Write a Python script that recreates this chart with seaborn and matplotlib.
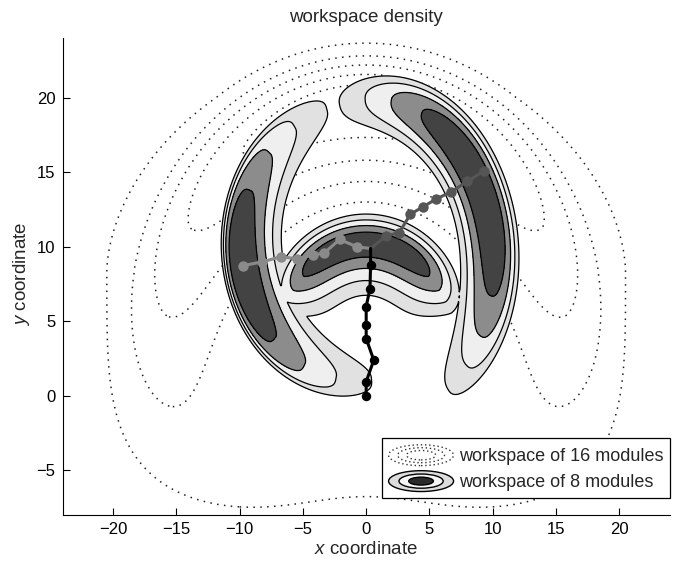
import numpy as np
import pandas as pd
import matplotlib
matplotlib.use("Agg")
import matplotlib.pyplot as plt
import seaborn as sns
from matplotlib.patches import Ellipse
from matplotlib.legend_handler import HandlerBase
from matplotlib.lines import Line2D

sns.set_theme(style="white")
plt.rcParams["font.family"] = ["Liberation Sans", "DejaVu Sans"]
plt.rcParams["mathtext.fontset"] = "custom"
plt.rcParams["mathtext.it"] = "Liberation Sans:italic"
plt.rcParams["mathtext.rm"] = "Liberation Sans"
np.seterr(over="ignore")

# ---------------- data ----------------
title = "workspace density"
x_label = r"$\it{x}$ coordinate"
y_label = r"$\it{y}$ coordinate"
legend_labels = ["workspace of 16 modules", "workspace of 8 modules"]
x_ticks = [-20, -15, -10, -5, 0, 5, 10, 15, 20]
y_ticks = [-5, 0, 5, 10, 15, 20]
x_limits = (-24, 24)
y_limits = (-8, 24)

# robot chains (joint positions)
black_x = [0.0, 0.0, 0.6, 0.0, 0.0, 0.0, 0.3, 0.35, 0.35]
black_y = [0.0, 0.95, 2.4, 3.85, 4.75, 6.0, 7.2, 8.8, 9.9]
light_x = [0.35, -0.7, -2.1, -3.3, -4.2, -5.5, -6.7, -8.2, -9.7]
light_y = [9.9, 10.0, 10.5, 9.6, 9.45, 9.2, 9.35, 9.0, 8.75]
dark_x = [0.35, 1.6, 2.6, 3.5, 4.5, 5.5, 6.7, 8.0, 9.3]
dark_y = [9.9, 10.75, 10.95, 12.2, 12.7, 13.2, 13.7, 14.4, 15.1]

# 16-module workspace density: horseshoe band + hull
band16_center = (0.0, 4.0)
band16_axes = (15.2, 15.5)
band16_ridge = 1.02
band16_width_out = (0.10, 0.085)   # at top, extra at the sides
band16_width_in = 0.225
band16_ang_sigma = 55.0
hull16_center = (0.0, 8.3)
hull16_ax = 20.5
hull16_ay_up = 15.2
hull16_ay_down = 16.2
hull16_p_up = 1.8
hull16_p_low = 3.8
hull16_bottom_bump = (0.07, 5.0)
levels16 = [0.044, 0.15, 0.30, 0.52, 0.78]

# 8-module workspace density: three crescent components
comp_cx = [-0.66, 0.5, 0.0]
comp_cy = [10.29, 9.0, 1.0]
comp_ax = [9.1, 9.6, 7.8]
comp_ay = [9.1, 10.9, 9.1]
comp_mid = [191.0, 27.0, 90.0]
comp_sig = [44.0, 48.0, 44.5]
comp_pow = [2.0, 2.7, 4.5]
comp_w_out = [1.25, 1.23, 1.15]
comp_p_out = [4.3, 2.7, 2.2]
comp_w_in = [1.49, 1.52, 1.2]
comp_p_in = [1.83, 2.3, 1.3]
levels8 = [0.15, 0.30, 0.50, 0.75]
fill8_colors = ["#e1e1e1", "#efefef", "#8c8c8c", "#434343"]

# ---------------- fields ----------------
gx = np.linspace(x_limits[0], x_limits[1], 800)
gy = np.linspace(y_limits[0], y_limits[1], 700)
X, Y = np.meshgrid(gx, gy)


def angdiff(a, b):
    return (a - b + 180.0) % 360.0 - 180.0


hx = (X - hull16_center[0]) / hull16_ax
lower = Y < hull16_center[1]
hy = np.where(lower, (Y - hull16_center[1]) / hull16_ay_down,
              (Y - hull16_center[1]) / hull16_ay_up)
hp = np.where(lower, hull16_p_low, hull16_p_up)
hrho = (np.abs(hx) ** hp + np.abs(hy) ** hp) ** (1.0 / hp)
hrho = hrho + np.where(lower, hull16_bottom_bump[0] *
                       np.exp(-0.5 * (X / hull16_bottom_bump[1]) ** 2), 0.0)
base = 2 * levels16[0] / (1 + np.exp((hrho - 1) / 0.01))

nx = (X - band16_center[0]) / band16_axes[0]
ny = (Y - band16_center[1]) / band16_axes[1]
rho = np.hypot(nx, ny)
phi = angdiff(np.degrees(np.arctan2(ny, nx)), 90.0)
d = rho - band16_ridge
w_out = band16_width_out[0] + band16_width_out[1] * (phi / 90.0) ** 2
w = np.where(d > 0, w_out, band16_width_in)
band = np.exp(-0.5 * (phi / band16_ang_sigma) ** 2) * np.exp(-0.5 * (d / w) ** 2)
clip = np.where(lower, 1 / (1 + np.exp((hrho - 0.98) / 0.02)), 1.0)
F16 = np.maximum(band * clip, base)

F8 = np.zeros_like(X)
for i in range(len(comp_cx)):
    dx = X - comp_cx[i]
    dy = Y - comp_cy[i]
    ex = dx / comp_ax[i]
    ey = dy / comp_ay[i]
    r = np.maximum(np.hypot(ex, ey), 1e-6)
    ph = angdiff(np.degrees(np.arctan2(ey, ex)), comp_mid[i])
    dd = (r - 1) / r * np.hypot(dx, dy)      # distance to ridge, data units
    rad = np.where(dd > 0,
                   np.exp(-0.5 * (np.abs(dd) / comp_w_out[i]) ** comp_p_out[i]),
                   np.exp(-0.5 * (np.abs(dd) / comp_w_in[i]) ** comp_p_in[i]))
    ang = np.exp(-0.5 * (np.abs(ph) / comp_sig[i]) ** comp_pow[i])
    F8 = np.maximum(F8, rad * ang)

# ---------------- figure ----------------
fig = plt.figure(figsize=(6.8, 5.62), dpi=100)
ax = fig.add_axes([0.092, 0.0836, 0.893, 0.848])

ax.contour(X, Y, F16, levels=levels16, colors="#222222", linewidths=1.1,
           linestyles=[(0, (1, 3.5))], zorder=1)
ax.contourf(X, Y, F8, levels=levels8 + [F8.max() + 1], colors=fill8_colors, zorder=2)
ax.contour(X, Y, F8, levels=levels8, colors="black", linewidths=0.9, zorder=3)

chains = [
    (light_x, light_y, "#8a8a8a", 7.5, slice(1, None)),
    (dark_x, dark_y, "#555555", 7.5, slice(1, None)),
    (black_x, black_y, "#000000", 6.8, slice(0, -1)),
]
for xs, ys, col, ms, sl in chains:
    df = pd.DataFrame({"x": xs, "y": ys})
    sns.lineplot(data=df, x="x", y="y", sort=False, estimator=None, color=col,
                 lw=2.2, ax=ax, zorder=5)
    sub = df.iloc[sl]
    sns.scatterplot(data=sub, x="x", y="y", color=col, s=ms ** 2, edgecolor=col,
                    linewidth=0, ax=ax, zorder=6)

ax.set_xlim(*x_limits)
ax.set_ylim(*y_limits)
ax.set_xticks(x_ticks)
ax.set_yticks(y_ticks)
ax.set_xticklabels([f"\u2212{abs(t)}" if t < 0 else str(t) for t in x_ticks])
ax.set_yticklabels([f"\u2212{abs(t)}" if t < 0 else str(t) for t in y_ticks])
ax.tick_params(direction="in", length=5, width=0.8, colors="black",
               labelsize=12, left=True, bottom=True, pad=5)
for s in ["top", "right"]:
    ax.spines[s].set_visible(False)
for s in ["left", "bottom"]:
    ax.spines[s].set_color("black")
    ax.spines[s].set_linewidth(0.8)
ax.set_xlabel("")
ax.set_ylabel("")
ax.grid(False)

fig.text(0.5385, 1 - 18 / 562, title, ha="center", va="center", fontsize=13.5)
fig.text(0.5385, 1 - 550 / 562, x_label, ha="center", va="center", fontsize=13.5)
fig.text(22 / 680, 1 - 274 / 562, y_label, ha="center", va="center",
         rotation=90, fontsize=13.5)


class RingHandler(HandlerBase):
    def __init__(self, filled):
        super().__init__()
        self.filled = filled

    def create_artists(self, legend, orig_handle, xdescent, ydescent, width,
                       height, fontsize, trans):
        cx = width / 2 - xdescent
        cy = height / 2 - ydescent
        arts = []
        if self.filled:
            specs = [(1.0, "#dcdcdc"), (0.68, "#f4f4f4"), (0.38, "#2a2a2a")]
            for sc, c in specs:
                arts.append(Ellipse((cx, cy), width * sc, height * sc,
                                    facecolor=c, edgecolor="black", lw=1.0,
                                    transform=trans))
        else:
            for sc in [1.0, 0.72, 0.45]:
                arts.append(Ellipse((cx, cy), width * sc, height * sc,
                                    facecolor="none", edgecolor="#333333",
                                    lw=1.0, linestyle=(0, (1, 2)),
                                    transform=trans))
        return arts


h1 = Line2D([], [])
h2 = Line2D([], [])
leg = ax.legend([h1, h2], legend_labels,
                handler_map={h1: RingHandler(False), h2: RingHandler(True)},
                loc="lower right", bbox_to_anchor=(1.0, 0.036),
                bbox_transform=ax.transAxes, borderaxespad=0, fontsize=13,
                frameon=True, fancybox=False, framealpha=1, edgecolor="black",
                handlelength=3.6, handleheight=1.4, labelspacing=0.28,
                borderpad=0.35, handletextpad=0.3)
leg.get_frame().set_linewidth(0.9)
leg.set_zorder(10)

fig.savefig("out.png", dpi=100)
